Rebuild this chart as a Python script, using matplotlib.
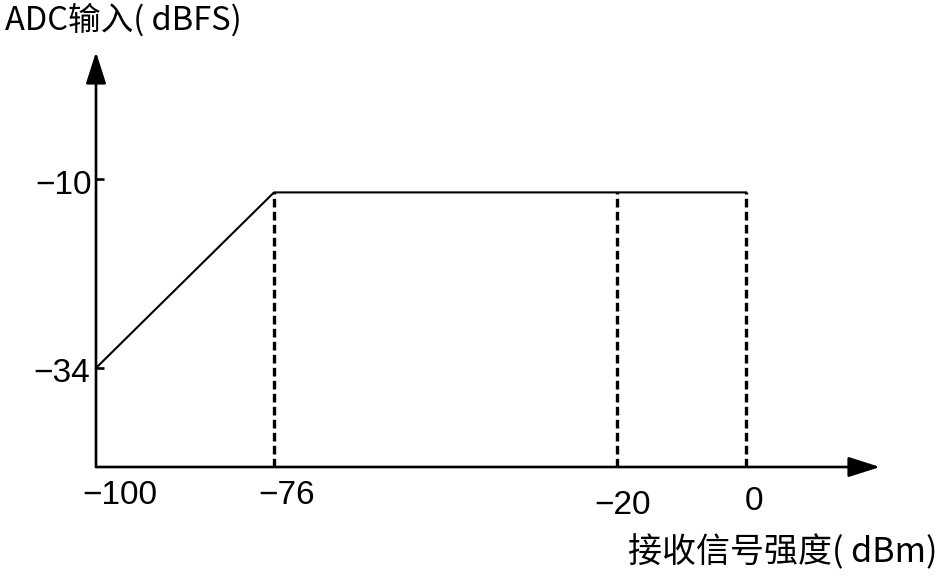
"""
ADC 输入电平与接收信号强度关系示意图
"""
import numpy as np
import matplotlib
matplotlib.use('Agg')
import matplotlib.pyplot as plt


# ==================== 数据定义 ====================
RSSI_DBM = [-100, -76, -20, 0]            # 接收信号强度 (dBm)
ADC_DBFS = [-34, -11.7, -11.7, -11.7]     # ADC 输入 (dBFS)
DASHED_X = [-76, -20, 0]                  # 虚线位置
X_TICKS = [-100, -76, -20, 0]
Y_TICKS = [-34, -10]
Y_TICK_TEXT = ['\u221234', '\u221210']
X_LABEL = '接收信号强度( dBm)'
Y_LABEL = 'ADC输入( dBFS)'

# 示意图横轴不是等距的, 用分段线性刻度还原 (像素位置)
X_ANCHOR = [-100, -76, -20, 0]
X_PIXEL = [0, 178, 521, 650]

# 刻度文字的手动偏移 (像素)
X_LABEL_SHIFT = [(24, -28), (13, -28), (6, -38), (8, -35)]
Y_LABEL_SHIFT = [(-6, -5), (-4, -6)]


def piecewise(x, xs, ys):
    """分段线性映射, 两端线性外推"""
    x = np.asarray(x, dtype=float)
    y = np.interp(x, xs, ys)
    lo = (ys[1] - ys[0]) / (xs[1] - xs[0])
    hi = (ys[-1] - ys[-2]) / (xs[-1] - xs[-2])
    y = np.where(x < xs[0], ys[0] + (x - xs[0]) * lo, y)
    y = np.where(x > xs[-1], ys[-1] + (x - xs[-1]) * hi, y)
    return y


def forward(x):
    return piecewise(x, X_ANCHOR, X_PIXEL)


def inverse(p):
    return piecewise(p, X_PIXEL, X_ANCHOR)


def main():
    W, H = 947, 581
    fig = plt.figure(figsize=(W / 100, H / 100), dpi=100)
    ax = fig.add_axes([96 / W, (H - 467) / H, (880 - 96) / W, (467 - 52) / H])

    ax.set_xscale('function', functions=(forward, inverse))
    ax.set_xlim(-100, float(inverse(784)))
    ax.set_ylim(-46.57, 6.13)

    for s in ax.spines.values():
        s.set_visible(False)

    # 曲线
    ax.plot(RSSI_DBM, ADC_DBFS, color='black', lw=1.5, clip_on=False)

    # 虚线
    tops = np.interp(DASHED_X, RSSI_DBM, ADC_DBFS)
    ax.vlines(DASHED_X, ax.get_ylim()[0], tops, colors='black',
              lw=2.4, linestyles=(0, (2.6, 1.3)))

    # 坐标轴箭头
    arrow = dict(arrowstyle='-|>,head_length=0.97,head_width=0.31',
                 mutation_scale=20, lw=1.9, color='black',
                 shrinkA=0, shrinkB=0)
    ax.annotate('', xy=(1, 0), xytext=(0, 0), xycoords='axes fraction',
                arrowprops=arrow)
    ax.annotate('', xy=(0, 1), xytext=(0, 0), xycoords='axes fraction',
                arrowprops=arrow)

    # 刻度
    ax.set_xticks([])
    ax.set_yticks(Y_TICKS)
    ax.set_yticklabels([])
    ax.tick_params(axis='y', direction='in', length=6, width=1.9)
    ax.minorticks_off()

    num_font = dict(family=['Liberation Sans', 'DejaVu Sans'], fontsize=24)
    for v, (dx, dy) in zip(X_TICKS, X_LABEL_SHIFT):
        ax.annotate(f'{v}'.replace('-', '\u2212'), xy=(v, 0),
                    xycoords=('data', 'axes fraction'),
                    xytext=(dx, dy), textcoords='offset pixels',
                    ha='center', va='center', **num_font)
    for v, txt, (dx, dy) in zip(Y_TICKS, Y_TICK_TEXT, Y_LABEL_SHIFT):
        ax.annotate(txt, xy=(0, v), xycoords=('axes fraction', 'data'),
                    xytext=(dx, dy), textcoords='offset pixels',
                    ha='right', va='center', **num_font)

    cjk = ['Noto Sans CJK SC', 'DejaVu Sans']
    fig.text(5 / W, 1 - 20 / H, Y_LABEL, ha='left', va='center',
             fontsize=23.5, family=cjk)
    fig.text(628 / W, 1 - 553 / H, X_LABEL, ha='left', va='center',
             fontsize=24.5, family=cjk)

    fig.savefig('out.png', dpi=100)


if __name__ == '__main__':
    main()
